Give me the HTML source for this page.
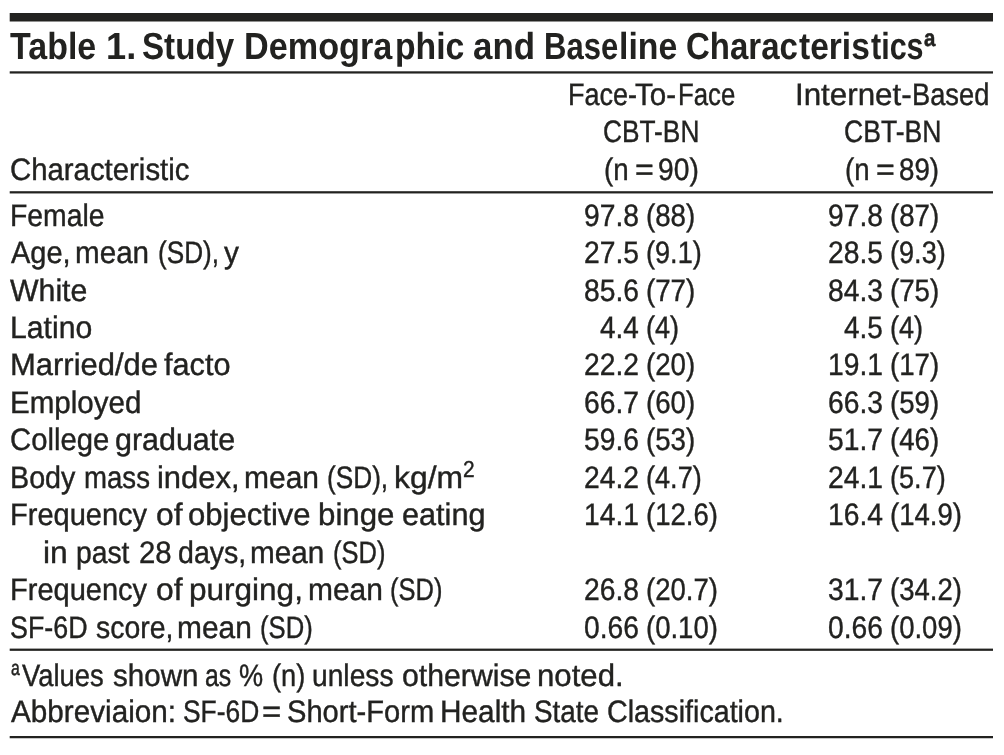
<!DOCTYPE html>
<html lang="en">
<head>
<meta charset="utf-8">
<title>Table 1. Study Demographic and Baseline Characteristics</title>
<style>
html,body{margin:0;padding:0;background:#fff;}
body{width:1004px;height:755px;position:relative;overflow:hidden;font-family:"Liberation Sans",sans-serif;font-size:31px;color:#222220;text-rendering:geometricPrecision;}
.rules{position:absolute;left:0;top:0;}
.ln{position:absolute;left:0;top:0;width:0;height:0;}
.t{position:absolute;white-space:pre;line-height:1;transform-origin:0 0;display:block;font-weight:400;-webkit-text-stroke:0.4px #222220;}
.h{font-size:37.7px;font-weight:700;-webkit-text-stroke:0;}
</style>
</head>
<body>
<svg class="rules" width="1004" height="755" viewBox="0 0 1004 755" aria-hidden="true"><rect x="9.7" y="13.0" width="983.3" height="8.5" fill="#222220"/><rect x="9.7" y="71.3" width="983.3" height="2.25" fill="#222220"/><rect x="9.7" y="191.2" width="983.3" height="2.25" fill="#222220"/><rect x="9.7" y="648.6" width="983.3" height="2.25" fill="#222220"/><rect x="9.7" y="736.0" width="983.3" height="2.25" fill="#222220"/></svg>
<div class="ln"><span class="t h" style="left:10.4px;top:28px;transform:scaleX(0.9015)">Table </span><span class="t h" style="left:105.58px;top:28px;transform:scaleX(0.9607)">1. </span><span class="t h" style="left:141.62px;top:28px;transform:scaleX(0.8797)">Study </span><span class="t h" style="left:243.98px;top:28px;transform:scaleX(0.9077)">Demogra</span><span class="t h" style="left:395.31px;top:28px;transform:scaleX(0.8951)">phic </span><span class="t h" style="left:472.87px;top:28px;transform:scaleX(0.9253)">and </span><span class="t h" style="left:543.65px;top:28px;transform:scaleX(0.8228)">Base</span><span class="t h" style="left:619.11px;top:28px;transform:scaleX(0.8973)">line </span><span class="t h" style="left:686.22px;top:28px;transform:scaleX(0.8750)">Charac</span><span class="t h" style="left:798.9px;top:28px;transform:scaleX(0.8888)">teris</span><span class="t h" style="left:870.7px;top:28px;transform:scaleX(0.8096)">tics</span><span class="t" style="left:924.3px;top:27px;transform:scaleX(0.8714);font-size:23.5px;font-weight:700;-webkit-text-stroke:0.5px #222220">a</span></div>
<div class="ln"><span class="t" style="left:568.16px;top:79px;transform:scaleX(0.8720)">Face-</span><span class="t" style="left:635.4px;top:79px;transform:scaleX(0.9535)">To-</span><span class="t" style="left:677.74px;top:79px;transform:scaleX(0.8313)">Face</span></div>
<div class="ln"><span class="t" style="left:603.15px;top:116px;transform:scaleX(0.8478)">CBT-BN</span></div>
<div class="ln"><span class="t" style="left:604.41px;top:154px;transform:scaleX(0.8925)">(n </span><span class="t" style="left:634.76px;top:154px;transform:scaleX(1.0375)">= </span><span class="t" style="left:657.89px;top:154px;transform:scaleX(0.9110)">90)</span></div>
<div class="ln"><span class="t" style="left:794.98px;top:79px;transform:scaleX(1.0105)">Internet-</span><span class="t" style="left:911.64px;top:79px;transform:scaleX(0.8800)">Based</span></div>
<div class="ln"><span class="t" style="left:843.89px;top:116px;transform:scaleX(0.8568)">CBT-BN</span></div>
<div class="ln"><span class="t" style="left:845.36px;top:154px;transform:scaleX(0.8885)">(n </span><span class="t" style="left:875.96px;top:154px;transform:scaleX(1.0375)">= </span><span class="t" style="left:899.11px;top:154px;transform:scaleX(0.8945)">89)</span></div>
<div class="ln"><span class="t" style="left:10.05px;top:154px;transform:scaleX(0.9468)">Characteristic</span></div>
<div class="ln"><span class="t" style="left:10.37px;top:200px;transform:scaleX(0.9143)">Female </span><span class="t" style="left:583.7px;top:200px;transform:scaleX(0.9116)">97.8 </span><span class="t" style="left:646.4px;top:200px;transform:scaleX(0.8928)">(88) </span><span class="t" style="left:827.95px;top:200px;transform:scaleX(0.9116)">97.8 </span><span class="t" style="left:890px;top:200px;transform:scaleX(0.8928)">(87)</span></div>
<div class="ln"><span class="t" style="left:10.5px;top:237px;transform:scaleX(0.9353)">Age, </span><span class="t" style="left:75.09px;top:237px;transform:scaleX(0.9555)">mean </span><span class="t" style="left:158.36px;top:237px;transform:scaleX(0.8441)">(SD), </span><span class="t" style="left:223.8px;top:237px;transform:scaleX(0.9625)">y </span><span class="t" style="left:583.7px;top:237px;transform:scaleX(0.9116)">27.5 </span><span class="t" style="left:646.4px;top:237px;transform:scaleX(0.8745)">(9.1) </span><span class="t" style="left:827.95px;top:237px;transform:scaleX(0.9116)">28.5 </span><span class="t" style="left:890px;top:237px;transform:scaleX(0.8745)">(9.3)</span></div>
<div class="ln"><span class="t" style="left:10.1px;top:275px;transform:scaleX(0.9763)">White </span><span class="t" style="left:583.7px;top:275px;transform:scaleX(0.9116)">85.6 </span><span class="t" style="left:646.4px;top:275px;transform:scaleX(0.8928)">(77) </span><span class="t" style="left:827.95px;top:275px;transform:scaleX(0.9116)">84.3 </span><span class="t" style="left:890px;top:275px;transform:scaleX(0.8928)">(75)</span></div>
<div class="ln"><span class="t" style="left:10.25px;top:312px;transform:scaleX(0.9733)">Latino </span><span class="t" style="left:599.86px;top:312px;transform:scaleX(0.9013)">4.4 </span><span class="t" style="left:646.4px;top:312px;transform:scaleX(0.8726)">(4) </span><span class="t" style="left:844.11px;top:312px;transform:scaleX(0.9013)">4.5 </span><span class="t" style="left:890px;top:312px;transform:scaleX(0.8726)">(4)</span></div>
<div class="ln"><span class="t" style="left:9.5px;top:349px;transform:scaleX(0.9987)">Married/de </span><span class="t" style="left:164.25px;top:349px;transform:scaleX(0.9891)">facto </span><span class="t" style="left:583.7px;top:349px;transform:scaleX(0.9116)">22.2 </span><span class="t" style="left:646.4px;top:349px;transform:scaleX(0.8928)">(20) </span><span class="t" style="left:827.95px;top:349px;transform:scaleX(0.9116)">19.1 </span><span class="t" style="left:890px;top:349px;transform:scaleX(0.8928)">(17)</span></div>
<div class="ln"><span class="t" style="left:10.29px;top:387px;transform:scaleX(0.9531)">Employed </span><span class="t" style="left:583.7px;top:387px;transform:scaleX(0.9116)">66.7 </span><span class="t" style="left:646.4px;top:387px;transform:scaleX(0.8928)">(60) </span><span class="t" style="left:827.95px;top:387px;transform:scaleX(0.9116)">66.3 </span><span class="t" style="left:890px;top:387px;transform:scaleX(0.8928)">(59)</span></div>
<div class="ln"><span class="t" style="left:9.96px;top:424px;transform:scaleX(0.9438)">College </span><span class="t" style="left:115.27px;top:424px;transform:scaleX(0.9822)">graduate </span><span class="t" style="left:583.7px;top:424px;transform:scaleX(0.9116)">59.6 </span><span class="t" style="left:646.4px;top:424px;transform:scaleX(0.8928)">(53) </span><span class="t" style="left:827.95px;top:424px;transform:scaleX(0.9116)">51.7 </span><span class="t" style="left:890px;top:424px;transform:scaleX(0.8928)">(46)</span></div>
<div class="ln"><span class="t" style="left:10.05px;top:462px;transform:scaleX(0.9254)">Body </span><span class="t" style="left:83.72px;top:462px;transform:scaleX(0.8901)">mass </span><span class="t" style="left:156.51px;top:462px;transform:scaleX(0.9973)">index, </span><span class="t" style="left:243.76px;top:462px;transform:scaleX(0.9676)">mean </span><span class="t" style="left:326.95px;top:462px;transform:scaleX(0.8456)">(SD), </span><span class="t" style="left:394.34px;top:462px;transform:scaleX(1.0276)">kg/m</span><span class="t" style="left:462.69px;top:458px;transform:scaleX(0.9091);font-size:23px">2 </span><span class="t" style="left:583.7px;top:462px;transform:scaleX(0.9116)">24.2 </span><span class="t" style="left:646.4px;top:462px;transform:scaleX(0.8745)">(4.7) </span><span class="t" style="left:827.95px;top:462px;transform:scaleX(0.9116)">24.1 </span><span class="t" style="left:890px;top:462px;transform:scaleX(0.8745)">(5.7)</span></div>
<div class="ln"><span class="t" style="left:10.23px;top:499px;transform:scaleX(0.9361)">Frequency </span><span class="t" style="left:155.87px;top:499px;transform:scaleX(1.0261)">of </span><span class="t" style="left:187.9px;top:499px;transform:scaleX(1.0024)">objective </span><span class="t" style="left:317.78px;top:499px;transform:scaleX(1.0081)">binge </span><span class="t" style="left:401.51px;top:499px;transform:scaleX(0.9888)">eating </span><span class="t" style="left:583.7px;top:499px;transform:scaleX(0.9116)">14.1 </span><span class="t" style="left:646.4px;top:499px;transform:scaleX(0.8879)">(12.6) </span><span class="t" style="left:827.95px;top:499px;transform:scaleX(0.9116)">16.4 </span><span class="t" style="left:890px;top:499px;transform:scaleX(0.8879)">(14.9)</span></div>
<div class="ln"><span class="t" style="left:42.75px;top:537px;transform:scaleX(1.0246)">in </span><span class="t" style="left:75.77px;top:537px;transform:scaleX(0.9126)">past </span><span class="t" style="left:139.05px;top:537px;transform:scaleX(0.9460)">28 </span><span class="t" style="left:177.88px;top:537px;transform:scaleX(0.9208)">days, </span><span class="t" style="left:250.08px;top:537px;transform:scaleX(0.9582)">mean </span><span class="t" style="left:333.18px;top:537px;transform:scaleX(0.8226)">(SD)</span></div>
<div class="ln"><span class="t" style="left:10.23px;top:574px;transform:scaleX(0.9361)">Frequency </span><span class="t" style="left:155.87px;top:574px;transform:scaleX(1.0261)">of </span><span class="t" style="left:189.27px;top:574px;transform:scaleX(1.0166)">purging, </span><span class="t" style="left:307.67px;top:574px;transform:scaleX(0.9663)">mean </span><span class="t" style="left:390.28px;top:574px;transform:scaleX(0.8226)">(SD) </span><span class="t" style="left:583.7px;top:574px;transform:scaleX(0.9116)">26.8 </span><span class="t" style="left:646.4px;top:574px;transform:scaleX(0.8879)">(20.7) </span><span class="t" style="left:827.95px;top:574px;transform:scaleX(0.9116)">31.7 </span><span class="t" style="left:890px;top:574px;transform:scaleX(0.8879)">(34.2)</span></div>
<div class="ln"><span class="t" style="left:9.63px;top:612px;transform:scaleX(0.8661)">SF-6D </span><span class="t" style="left:95.8px;top:612px;transform:scaleX(0.9162)">score, </span><span class="t" style="left:176.82px;top:612px;transform:scaleX(0.9643)">mean </span><span class="t" style="left:260.07px;top:612px;transform:scaleX(0.8275)">(SD) </span><span class="t" style="left:583.7px;top:612px;transform:scaleX(0.9116)">0.66 </span><span class="t" style="left:646.4px;top:612px;transform:scaleX(0.8879)">(0.10) </span><span class="t" style="left:827.95px;top:612px;transform:scaleX(0.9116)">0.66 </span><span class="t" style="left:890px;top:612px;transform:scaleX(0.8879)">(0.09)</span></div>
<div class="ln"><span class="t" style="left:10.9px;top:658px;transform:scaleX(0.7500);font-size:21px;-webkit-text-stroke:0.5px #222220">a</span><span class="t" style="left:22px;top:660px;transform:scaleX(0.8833)">Values </span><span class="t" style="left:112.5px;top:660px;transform:scaleX(0.9534)">shown </span><span class="t" style="left:205.45px;top:660px;transform:scaleX(0.8002)">as </span><span class="t" style="left:239.12px;top:660px;transform:scaleX(0.8750)">% </span><span class="t" style="left:272.12px;top:660px;transform:scaleX(0.8787)">(n) </span><span class="t" style="left:312.43px;top:660px;transform:scaleX(0.9098)">unless </span><span class="t" style="left:401.77px;top:660px;transform:scaleX(0.9756)">otherwise </span><span class="t" style="left:536.74px;top:660px;transform:scaleX(1.0052)">noted.</span></div>
<div class="ln"><span class="t" style="left:11.25px;top:696px;transform:scaleX(0.9575)">Abbreviaion: </span><span class="t" style="left:182.9px;top:696px;transform:scaleX(0.8517)">SF-6D</span><span class="t" style="left:262.44px;top:696px;transform:scaleX(1.0625)">=</span><span class="t" style="left:286.81px;top:696px;transform:scaleX(0.9388)">Short-Form </span><span class="t" style="left:440.33px;top:696px;transform:scaleX(0.9610)">Health </span><span class="t" style="left:534.35px;top:696px;transform:scaleX(0.8982)">State </span><span class="t" style="left:607.33px;top:696px;transform:scaleX(0.9247)">Classification.</span></div>
</body>
</html>
